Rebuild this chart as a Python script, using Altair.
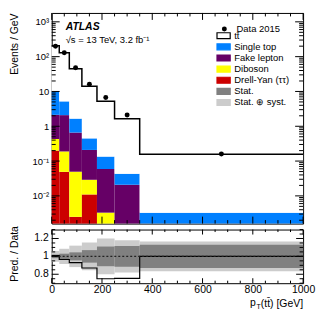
import altair as alt
import pandas as pd

FONT = "Liberation Sans"

# ---------------- data ----------------
edges = [0, 30, 70, 120, 180, 250, 350, 1000]
ttbar = [195, 124, 43, 13.6, 5.1, 1.6, 0.153]
single_top = [7.9, 3.1, 1.0, 0.24, 0.075, 0.022, 0.0033]
fake_lepton = [1.7, 1.9, 0.61, 0.18, 0.056, 0.021, 0.0]
diboson = [0.23, 0.14, 0.047, 0.018, 0.0033, 0.0, 0.0]
drell_yan = [0.20, 0.049, 0.0025, 0.011, 0.0, 0.0, 0.0]
data_2015 = [200, 130, 48, 16, 6.7, 2.1, 0.16]

ratio = [1.01, 0.965, 0.93, 0.87, 0.75, 0.755, 1.0]
stat_err = [0.02, 0.03, 0.045, 0.07, 0.11, 0.115, 0.13]
tot_err = [0.06, 0.085, 0.12, 0.155, 0.2, 0.18, 0.165]

legend_names = ["tt\u0304", "Single top", "Fake lepton", "Diboson",
                "Drell-Yan (ττ)", "Stat.", "Stat. ⊕ syst."]
fill_colors = ["#ffffff", "#0080ff", "#660066", "#ffff00", "#cc0000", "#808080", "#cccccc"]
stroke_colors = ["#000000", "#0080ff", "#660066", "#ffff00", "#cc0000", "#808080", "#cccccc"]

y_major = [0.01, 0.1, 1, 10, 100, 1000]
y_major_labels = ["10⁻²", "10⁻¹", "1", "10", "10²", "10³"]
x_major = [0, 200, 400, 600, 800, 1000]
x_minor = [v for v in range(0, 1001, 50) if v % 200 != 0]
ratio_major = [0.8, 1.0, 1.2]
ratio_major_labels = ["0.8", "1", "1.2"]
ratio_minor = [0.7, 0.75, 0.85, 0.9, 0.95, 1.05, 1.1, 1.15, 1.25, 1.3]

# ---------------- geometry ----------------
W = 253
H_MAIN = 212
H_RATIO = 54
Y_DOMAIN = [0.0016, 1800]
R_DOMAIN = [0.7, 1.3]

y_minor = []
for k in range(-3, 4):
    for m in range(2, 10):
        v = m * 10.0 ** k
        if Y_DOMAIN[0] <= v <= Y_DOMAIN[1]:
            y_minor.append(v)

xs = alt.Scale(domain=[0, 1000], nice=False, zero=False)
ys = alt.Scale(type="log", domain=Y_DOMAIN, nice=False, clamp=True)
rs = alt.Scale(domain=R_DOMAIN, nice=False, zero=False, clamp=True)

# ---------------- tables ----------------
stack = [("Drell-Yan (ττ)", drell_yan), ("Diboson", diboson),
         ("Fake lepton", fake_lepton), ("Single top", single_top),
         ("tt\u0304", ttbar)]
rows = []
totals = []
for i in range(len(edges) - 1):
    cum = 0.0
    for name, vals in stack:
        lo = cum
        cum += vals[i]
        if vals[i] > 0:
            rows.append({"comp": name, "x": edges[i], "x2": edges[i + 1],
                         "lo": max(lo, 1e-6), "hi": cum})
    totals.append(cum)
stack_df = pd.DataFrame(rows)

total_df = pd.DataFrame({"x": edges, "y": totals + [totals[-1]]})
centers = [(edges[i] + edges[i + 1]) / 2 for i in range(len(edges) - 1)]
data_df = pd.DataFrame({"x": centers, "y": data_2015, "series": ["Data 2015"] * len(centers)})

band_df = pd.DataFrame({
    "x": edges[:-1], "x2": edges[1:],
    "slo": [1 - e for e in stat_err], "shi": [1 + e for e in stat_err],
    "tlo": [1 - e for e in tot_err], "thi": [1 + e for e in tot_err],
})
ratio_df = pd.DataFrame({"x": edges, "y": ratio + [ratio[-1]]})
ratio_lab_df = pd.DataFrame({"v": ratio_major, "t": ratio_major_labels})


def X(field, hide):
    return alt.X(field, scale=xs, axis=None) if hide else alt.X(field, scale=xs)


# ---------------- helpers ----------------
def yticks(vals, length, scale, width):
    df = pd.DataFrame({"v": vals})
    base = alt.Chart(df).mark_rule(color="black", strokeWidth=1)
    out = []
    for x0, x1 in ((0, length), (width, width - length)):
        out.append(base.encode(y=alt.Y("v:Q", scale=scale),
                               x=alt.value(x0), x2=alt.value(x1)))
    return out


def xticks(vals, length, height, hide_x):
    df = pd.DataFrame({"v": vals})
    base = alt.Chart(df).mark_rule(color="black", strokeWidth=1)
    out = []
    for y0, y1 in ((0, length), (height, height - length)):
        out.append(base.encode(x=X("v:Q", hide_x), y=alt.value(y0), y2=alt.value(y1)))
    return out


def make_label_expr(vals, labels):
    expr = "''"
    for v, l in zip(vals, labels):
        expr = f"abs(datum.value - {v}) < {abs(v) * 1e-3} ? '{l}' : ({expr})"
    return expr


fill_scale = alt.Scale(domain=legend_names, range=fill_colors)
stroke_scale = alt.Scale(domain=legend_names, range=stroke_colors)

color_legend = alt.Legend(
    title=None, orient="none", legendX=168, legendY=17.9,
    symbolType="M-1.66,-0.75H1.66V0.75H-1.66Z", symbolSize=64,
    symbolStrokeWidth=1.2, labelFont=FONT, labelFontSize=9.5, labelColor="black",
    labelOffset=5.7, rowPadding=-0.8, padding=0, labelLimit=200,
)
data_legend = alt.Legend(
    title=None, orient="none", legendX=169, legendY=11.4,
    symbolSize=25, symbolFillColor="black", symbolStrokeColor="black",
    labelFont=FONT, labelFontSize=9.5, labelColor="black", labelOffset=7.5,
    padding=0,
)

TITLE_X = -37.5

y_axis_main = alt.Axis(
    values=y_major, labelExpr=make_label_expr(y_major, y_major_labels),
    ticks=False, domain=False, grid=False,
    labelFontSize=9.5, labelPadding=3, labelOverlap=False, labelBound=False,
    title="Events / GeV", titleFontSize=10.5, titleFontWeight="normal",
    titleAngle=-90, titleX=TITLE_X, titleY=0, titleAlign="right", titleBaseline="middle",
)

# ---------------- main panel ----------------
rects = alt.Chart(stack_df).mark_rect(strokeWidth=0).encode(
    x=X("x:Q", True),
    x2="x2:Q",
    y=alt.Y("lo:Q", scale=ys, axis=y_axis_main),
    y2="hi:Q",
    fill=alt.Fill("comp:N", scale=fill_scale, legend=color_legend),
)

legend_helper = alt.Chart(pd.DataFrame({"comp": legend_names})).mark_rect(strokeWidth=1).encode(
    fill=alt.Fill("comp:N", scale=fill_scale, legend=color_legend),
    stroke=alt.Stroke("comp:N", scale=stroke_scale, legend=color_legend),
    x=alt.value(0), x2=alt.value(0), y=alt.value(0), y2=alt.value(0),
)

total_line = alt.Chart(total_df).mark_line(
    interpolate="step-after", color="black", strokeWidth=1.5
).encode(x=X("x:Q", True), y=alt.Y("y:Q", scale=ys))

points = alt.Chart(data_df).mark_point(filled=True, color="black", size=25, opacity=1).encode(
    x=X("x:Q", True),
    y=alt.Y("y:Q", scale=ys),
    shape=alt.Shape("series:N", scale=alt.Scale(domain=["Data 2015"], range=["circle"]),
                    legend=data_legend),
)

atlas = alt.Chart(pd.DataFrame({"t": ["ATLAS"]})).mark_text(
    align="left", baseline="middle", font=FONT, fontSize=10.5,
    fontWeight="bold", fontStyle="italic", color="black",
).encode(text="t:N", x=alt.value(14), y=alt.value(14))

energy = alt.Chart(pd.DataFrame({"t": ["√s = 13 TeV, 3.2 fb⁻¹"]})).mark_text(
    align="left", baseline="middle", font=FONT, fontSize=9.5, color="black",
).encode(text="t:N", x=alt.value(14), y=alt.value(27))

main_layers = [rects, legend_helper, total_line, points, atlas, energy]
main_layers += yticks(y_major, 8, ys, W) + yticks(y_minor, 4, ys, W)
main_layers += xticks(x_major, 7, H_MAIN, True) + xticks(x_minor, 3.5, H_MAIN, True)

main = alt.layer(*main_layers).properties(width=W, height=H_MAIN)

# ---------------- ratio panel ----------------
x_axis_ratio = alt.Axis(
    values=x_major, ticks=False, domain=False, grid=False, title=None,
    labelFontSize=10.5, labelPadding=1, labelFlush=False, labelOverlap=False,
    labelBound=False, format="d",
)
y_axis_ratio = alt.Axis(
    values=ratio_major, labels=False, ticks=False, domain=False, grid=False,
    title="Pred. / Data", titleFontSize=10.5, titleFontWeight="normal",
    titleAngle=-90, titleX=TITLE_X, titleY=24, titleAlign="center",
    titleBaseline="middle",
)

syst_band = alt.Chart(band_df).mark_rect(color="#cccccc").encode(
    x=alt.X("x:Q", scale=xs, axis=x_axis_ratio), x2="x2:Q",
    y=alt.Y("tlo:Q", scale=rs, axis=y_axis_ratio), y2="thi:Q",
)
stat_band = alt.Chart(band_df).mark_rect(color="#808080").encode(
    x=X("x:Q", False), x2="x2:Q",
    y=alt.Y("slo:Q", scale=rs), y2="shi:Q",
)
ratio_line = alt.Chart(ratio_df).mark_line(
    interpolate="step-after", color="black", strokeWidth=1.2
).encode(x=X("x:Q", False), y=alt.Y("y:Q", scale=rs))

unity = alt.Chart(pd.DataFrame({"y": [1.0]})).mark_rule(
    color="#222222", strokeWidth=1.5, strokeDash=[2, 2]
).encode(y=alt.Y("y:Q", scale=rs))

ratio_labels = alt.Chart(ratio_lab_df).mark_text(
    align="right", baseline="middle", font=FONT, fontSize=10.5, color="black"
).encode(text="t:N", y=alt.Y("v:Q", scale=rs), x=alt.value(-3))

xt_main = alt.Chart(pd.DataFrame({"t": ["(tt\u0304) [GeV]"]})).mark_text(
    align="right", baseline="middle", font=FONT, fontSize=10.5, color="black"
).encode(text="t:N", x=alt.value(W), y=alt.value(H_RATIO + 20.5))
xt_p = alt.Chart(pd.DataFrame({"t": ["p"]})).mark_text(
    align="right", baseline="middle", font=FONT, fontSize=10.5, color="black"
).encode(text="t:N", x=alt.value(W - 47.5), y=alt.value(H_RATIO + 19.5))
xt_T = alt.Chart(pd.DataFrame({"t": ["T"]})).mark_text(
    align="right", baseline="middle", font=FONT, fontSize=7, color="black"
).encode(text="t:N", x=alt.value(W - 42.5), y=alt.value(H_RATIO + 24))

ratio_layers = [syst_band, stat_band, ratio_line, unity, ratio_labels, xt_main, xt_p, xt_T]
ratio_layers += yticks(ratio_major, 7, rs, W) + yticks(ratio_minor, 3.5, rs, W)
ratio_layers += xticks(x_major, 5, H_RATIO, False) + xticks(x_minor, 2.5, H_RATIO, False)

ratio_panel = alt.layer(*ratio_layers).properties(width=W, height=H_RATIO)

chart = alt.vconcat(main, ratio_panel, spacing=0).resolve_scale(
    fill="independent", stroke="independent", shape="independent"
).resolve_legend(
    fill="independent", stroke="independent", shape="independent"
).properties(
    padding={"left": 0, "top": 3, "right": 0, "bottom": 0},
    background="white",
).configure_view(
    stroke="black", strokeWidth=1
).configure_axis(
    labelFont=FONT, titleFont=FONT, labelColor="black", titleColor="black", grid=False
).configure_legend(
    labelFont=FONT
)

chart.save("out.html", embed_options={"renderer": "svg", "actions": False})
